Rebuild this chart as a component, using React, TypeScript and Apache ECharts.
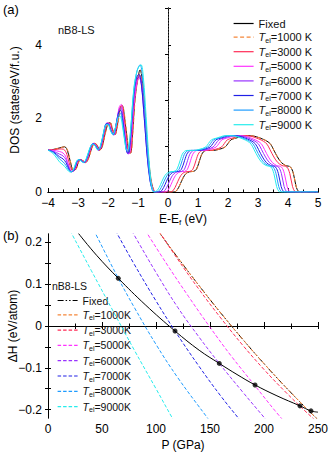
import React, { useEffect, useRef } from "react";
import * as echarts from "echarts";

// ---------- Panel (a): DOS vs E-Ef, [E (eV), DOS] ----------
const dosFixed = [
  [-4, 1.14], [-3.8, 1.16], [-3.6, 1.2], [-3.45, 1.23], [-3.35, 1.12], [-3.25, 0.8], [-3.15, 0.58], [-3.07, 0.62], [-3.0, 0.78], [-2.92, 0.88], [-2.84, 0.85], [-2.75, 0.8], [-2.65, 0.92], [-2.55, 1.18], [-2.45, 1.32], [-2.37, 1.28], [-2.28, 1.14], [-2.2, 1.22], [-2.1, 1.58], [-2.0, 1.86], [-1.93, 1.88], [-1.85, 1.7], [-1.77, 1.56], [-1.69, 1.8], [-1.6, 2.25], [-1.53, 2.35], [-1.46, 2.1], [-1.38, 1.55], [-1.3, 1.08], [-1.25, 1.06], [-1.18, 1.6], [-1.1, 2.55], [-1.0, 3.12], [-0.93, 3.32], [-0.86, 3.05], [-0.76, 2.05], [-0.66, 0.95], [-0.56, 0.28], [-0.47, 0.03], [-0.42, 0],
  [0.2, 0], [0.3, 0.05], [0.4, 0.2], [0.5, 0.38], [0.6, 0.5], [0.72, 0.55], [0.85, 0.56], [0.95, 0.62], [1.05, 0.85], [1.15, 1.06], [1.28, 1.13], [1.5, 1.13], [1.7, 1.16], [1.9, 1.22], [2.0, 1.32], [2.1, 1.42], [2.25, 1.46], [2.4, 1.5], [2.55, 1.53], [2.75, 1.53], [2.95, 1.5], [3.15, 1.44], [3.3, 1.38], [3.42, 1.3], [3.52, 1.15], [3.65, 0.95], [3.78, 0.8], [3.92, 0.72], [4.08, 0.68], [4.18, 0.5], [4.27, 0.15], [4.35, 0.01], [4.4, 0], [5, 0],
];
const dos1000 = [
  [-4, 1.14], [-3.8, 1.16], [-3.6, 1.2], [-3.44, 1.23], [-3.34, 1.12], [-3.24, 0.8], [-3.14, 0.58], [-3.06, 0.62], [-2.99, 0.78], [-2.91, 0.88], [-2.83, 0.85], [-2.74, 0.8], [-2.64, 0.92], [-2.54, 1.18], [-2.44, 1.32], [-2.36, 1.28], [-2.27, 1.14], [-2.19, 1.22], [-2.09, 1.58], [-1.99, 1.86], [-1.92, 1.88], [-1.84, 1.7], [-1.76, 1.56], [-1.68, 1.8], [-1.59, 2.25], [-1.52, 2.35], [-1.45, 2.1], [-1.37, 1.55], [-1.29, 1.08], [-1.24, 1.06], [-1.17, 1.6], [-1.09, 2.55], [-0.99, 3.12], [-0.92, 3.3], [-0.85, 3.05], [-0.75, 2.05], [-0.65, 0.95], [-0.55, 0.28], [-0.46, 0.03], [-0.41, 0],
  [0.2, 0], [0.3, 0.05], [0.4, 0.2], [0.5, 0.38], [0.6, 0.5], [0.72, 0.55], [0.85, 0.56], [0.95, 0.62], [1.05, 0.85], [1.15, 1.06], [1.28, 1.13], [1.5, 1.13], [1.7, 1.16], [1.9, 1.22], [2.0, 1.32], [2.1, 1.42], [2.25, 1.46], [2.4, 1.5], [2.55, 1.53], [2.75, 1.53], [2.95, 1.5], [3.15, 1.44], [3.3, 1.38], [3.42, 1.3], [3.52, 1.15], [3.65, 0.95], [3.78, 0.8], [3.92, 0.72], [4.08, 0.68], [4.18, 0.5], [4.27, 0.15], [4.35, 0.01], [4.4, 0], [5, 0],
];
const dos3000 = [
  [-4, 1.14], [-3.8, 1.15], [-3.6, 1.17], [-3.48, 1.16], [-3.37, 1.02], [-3.27, 0.72], [-3.17, 0.57], [-3.09, 0.62], [-3.01, 0.8], [-2.93, 0.88], [-2.85, 0.85], [-2.76, 0.8], [-2.66, 0.93], [-2.56, 1.19], [-2.46, 1.32], [-2.38, 1.27], [-2.29, 1.14], [-2.21, 1.23], [-2.11, 1.6], [-2.01, 1.87], [-1.94, 1.87], [-1.86, 1.68], [-1.78, 1.56], [-1.7, 1.82], [-1.61, 2.28], [-1.54, 2.36], [-1.47, 2.06], [-1.39, 1.5], [-1.31, 1.06], [-1.26, 1.06], [-1.19, 1.62], [-1.11, 2.55], [-1.01, 3.05], [-0.94, 3.18], [-0.87, 2.95], [-0.77, 2.0], [-0.67, 0.95], [-0.57, 0.3], [-0.48, 0.04], [-0.43, 0],
  [0.08, 0], [0.18, 0.05], [0.28, 0.2], [0.38, 0.38], [0.48, 0.5], [0.6, 0.55], [0.73, 0.56], [0.83, 0.62], [0.93, 0.85], [1.03, 1.06], [1.16, 1.13], [1.38, 1.13], [1.58, 1.16], [1.78, 1.22], [1.88, 1.32], [1.98, 1.42], [2.13, 1.46], [2.28, 1.5], [2.43, 1.53], [2.63, 1.53], [2.83, 1.5], [3.03, 1.44], [3.18, 1.38], [3.3, 1.3], [3.4, 1.15], [3.53, 0.95], [3.66, 0.8], [3.8, 0.72], [3.96, 0.68], [4.06, 0.5], [4.15, 0.15], [4.23, 0.01], [4.28, 0], [5, 0],
];
const dos5000 = [
  [-4, 1.14], [-3.8, 1.13], [-3.62, 1.1], [-3.5, 1.06], [-3.4, 0.95], [-3.3, 0.7], [-3.2, 0.56], [-3.11, 0.6], [-3.03, 0.8], [-2.95, 0.88], [-2.87, 0.85], [-2.78, 0.8], [-2.68, 0.93], [-2.58, 1.19], [-2.48, 1.32], [-2.4, 1.27], [-2.31, 1.14], [-2.23, 1.24], [-2.13, 1.62], [-2.03, 1.88], [-1.96, 1.86], [-1.88, 1.66], [-1.8, 1.55], [-1.72, 1.85], [-1.63, 2.3], [-1.56, 2.38], [-1.49, 2.0], [-1.41, 1.45], [-1.33, 1.04], [-1.28, 1.05], [-1.21, 1.62], [-1.12, 2.5], [-1.03, 3.0], [-0.96, 3.1], [-0.88, 2.9], [-0.78, 2.0], [-0.68, 0.95], [-0.58, 0.3], [-0.49, 0.04], [-0.44, 0],
  [-0.1, 0], [0, 0.05], [0.1, 0.2], [0.2, 0.38], [0.3, 0.5], [0.42, 0.55], [0.55, 0.56], [0.65, 0.62], [0.75, 0.85], [0.85, 1.06], [0.98, 1.13], [1.2, 1.13], [1.4, 1.16], [1.6, 1.22], [1.7, 1.32], [1.8, 1.42], [1.95, 1.46], [2.1, 1.5], [2.25, 1.53], [2.45, 1.53], [2.65, 1.5], [2.85, 1.44], [3.0, 1.38], [3.12, 1.3], [3.22, 1.15], [3.35, 0.95], [3.48, 0.8], [3.62, 0.72], [3.78, 0.68], [3.88, 0.5], [3.97, 0.15], [4.05, 0.01], [4.1, 0], [5, 0],
];
const dos6000 = [
  [-4, 1.14], [-3.8, 1.1], [-3.62, 1.03], [-3.5, 0.98], [-3.4, 0.88], [-3.3, 0.66], [-3.21, 0.55], [-3.12, 0.6], [-3.04, 0.8], [-2.96, 0.88], [-2.88, 0.85], [-2.79, 0.8], [-2.69, 0.93], [-2.59, 1.19], [-2.49, 1.32], [-2.41, 1.27], [-2.32, 1.14], [-2.24, 1.24], [-2.14, 1.6], [-2.04, 1.87], [-1.97, 1.85], [-1.89, 1.66], [-1.81, 1.55], [-1.73, 1.82], [-1.64, 2.22], [-1.57, 2.3], [-1.5, 1.98], [-1.42, 1.42], [-1.34, 1.04], [-1.29, 1.06], [-1.22, 1.65], [-1.13, 2.6], [-1.04, 3.08], [-0.97, 3.15], [-0.89, 2.92], [-0.79, 2.0], [-0.69, 0.95], [-0.59, 0.3], [-0.5, 0.04], [-0.45, 0],
  [-0.2, 0], [-0.1, 0.05], [0, 0.2], [0.1, 0.38], [0.2, 0.5], [0.32, 0.55], [0.45, 0.56], [0.55, 0.62], [0.65, 0.85], [0.75, 1.06], [0.88, 1.13], [1.1, 1.13], [1.3, 1.16], [1.5, 1.22], [1.6, 1.32], [1.7, 1.42], [1.85, 1.46], [2.0, 1.5], [2.15, 1.53], [2.35, 1.53], [2.55, 1.5], [2.75, 1.44], [2.9, 1.38], [3.02, 1.3], [3.12, 1.15], [3.25, 0.95], [3.38, 0.8], [3.52, 0.72], [3.68, 0.68], [3.78, 0.5], [3.87, 0.15], [3.95, 0.01], [4.0, 0], [5, 0],
];
const dos7000 = [
  [-4, 1.14], [-3.8, 1.08], [-3.62, 0.96], [-3.5, 0.9], [-3.4, 0.8], [-3.3, 0.62], [-3.22, 0.55], [-3.13, 0.6], [-3.05, 0.8], [-2.97, 0.88], [-2.89, 0.85], [-2.8, 0.8], [-2.7, 0.93], [-2.6, 1.18], [-2.5, 1.31], [-2.42, 1.27], [-2.33, 1.14], [-2.25, 1.23], [-2.15, 1.58], [-2.05, 1.86], [-1.98, 1.84], [-1.9, 1.66], [-1.82, 1.56], [-1.74, 1.8], [-1.65, 2.15], [-1.58, 2.22], [-1.51, 1.95], [-1.43, 1.42], [-1.35, 1.06], [-1.3, 1.08], [-1.23, 1.7], [-1.14, 2.65], [-1.05, 3.12], [-0.97, 3.2], [-0.89, 2.95], [-0.79, 2.0], [-0.69, 0.95], [-0.6, 0.3], [-0.51, 0.04], [-0.46, 0],
  [-0.3, 0], [-0.2, 0.05], [-0.1, 0.2], [0, 0.38], [0.1, 0.5], [0.22, 0.55], [0.35, 0.56], [0.45, 0.62], [0.55, 0.85], [0.65, 1.06], [0.78, 1.13], [1.0, 1.13], [1.2, 1.16], [1.4, 1.22], [1.5, 1.32], [1.6, 1.42], [1.75, 1.46], [1.9, 1.5], [2.05, 1.53], [2.25, 1.53], [2.45, 1.5], [2.65, 1.44], [2.8, 1.38], [2.92, 1.3], [3.02, 1.15], [3.15, 0.95], [3.28, 0.8], [3.42, 0.72], [3.58, 0.68], [3.68, 0.5], [3.77, 0.15], [3.85, 0.01], [3.9, 0], [5, 0],
];
const dos8000 = [
  [-4, 1.14], [-3.8, 1.06], [-3.62, 0.9], [-3.5, 0.82], [-3.4, 0.72], [-3.3, 0.58], [-3.23, 0.55], [-3.14, 0.61], [-3.06, 0.8], [-2.98, 0.88], [-2.9, 0.85], [-2.81, 0.8], [-2.71, 0.92], [-2.61, 1.17], [-2.51, 1.3], [-2.43, 1.27], [-2.34, 1.15], [-2.26, 1.22], [-2.16, 1.56], [-2.06, 1.84], [-1.99, 1.84], [-1.91, 1.67], [-1.83, 1.56], [-1.75, 1.75], [-1.66, 2.08], [-1.59, 2.14], [-1.52, 1.9], [-1.44, 1.4], [-1.36, 1.1], [-1.31, 1.12], [-1.24, 1.72], [-1.14, 2.75], [-1.03, 3.3], [-0.93, 3.46], [-0.85, 3.1], [-0.76, 2.05], [-0.67, 0.95], [-0.59, 0.3], [-0.52, 0.04], [-0.47, 0],
  [-0.38, 0], [-0.28, 0.05], [-0.18, 0.2], [-0.08, 0.38], [0.02, 0.5], [0.14, 0.55], [0.27, 0.56], [0.37, 0.62], [0.47, 0.85], [0.57, 1.06], [0.7, 1.13], [0.92, 1.13], [1.12, 1.16], [1.32, 1.22], [1.42, 1.32], [1.52, 1.42], [1.67, 1.46], [1.82, 1.5], [1.97, 1.53], [2.17, 1.53], [2.37, 1.5], [2.57, 1.44], [2.72, 1.38], [2.84, 1.3], [2.94, 1.15], [3.07, 0.95], [3.2, 0.8], [3.34, 0.72], [3.5, 0.68], [3.6, 0.5], [3.69, 0.15], [3.77, 0.01], [3.82, 0], [5, 0],
];
const dos9000 = [
  [-4, 1.14], [-3.8, 1.02], [-3.62, 0.82], [-3.5, 0.74], [-3.4, 0.65], [-3.32, 0.57], [-3.24, 0.54], [-3.15, 0.62], [-3.07, 0.8], [-2.99, 0.88], [-2.91, 0.85], [-2.82, 0.8], [-2.72, 0.92], [-2.62, 1.16], [-2.52, 1.3], [-2.44, 1.27], [-2.35, 1.15], [-2.27, 1.21], [-2.17, 1.54], [-2.07, 1.82], [-2.0, 1.83], [-1.92, 1.67], [-1.84, 1.56], [-1.76, 1.72], [-1.67, 2.0], [-1.6, 2.06], [-1.53, 1.86], [-1.45, 1.42], [-1.37, 1.14], [-1.32, 1.16], [-1.24, 1.75], [-1.14, 2.8], [-1.02, 3.32], [-0.9, 3.46], [-0.82, 3.1], [-0.73, 2.05], [-0.64, 0.95], [-0.57, 0.3], [-0.51, 0.04], [-0.47, 0],
  [-0.45, 0], [-0.35, 0.05], [-0.25, 0.2], [-0.15, 0.38], [-0.05, 0.5], [0.07, 0.55], [0.2, 0.56], [0.3, 0.62], [0.4, 0.85], [0.5, 1.06], [0.63, 1.13], [0.85, 1.13], [1.05, 1.16], [1.25, 1.22], [1.35, 1.32], [1.45, 1.42], [1.6, 1.46], [1.75, 1.5], [1.9, 1.53], [2.1, 1.53], [2.3, 1.5], [2.5, 1.44], [2.65, 1.38], [2.77, 1.3], [2.87, 1.15], [3.0, 0.95], [3.13, 0.8], [3.27, 0.72], [3.43, 0.68], [3.53, 0.5], [3.62, 0.15], [3.7, 0.01], [3.75, 0], [5, 0],
];

// ---------- Panel (b): dH vs P, [P (GPa), dH (eV/atom)] ----------
const dhFixed = [[100, 0.234], [120, 0.164], [140, 0.096], [160, 0.031], [182, -0.037], [200, -0.09], [220, -0.146], [240, -0.199], [252, -0.229]];
const dh1000 = [[100, 0.234], [120, 0.164], [140, 0.096], [160, 0.031], [182, -0.037], [200, -0.09], [220, -0.146], [240, -0.199], [252, -0.229]];
const dh3000 = [[100, 0.237], [120, 0.16], [140, 0.087], [160, 0.019], [180, -0.045], [200, -0.104], [220, -0.158], [240, -0.208], [250, -0.231]];
const dh5000 = [[90, 0.229], [110, 0.148], [130, 0.071], [150, -0.003], [170, -0.073], [191.7, -0.143], [210, -0.202], [220, -0.232]];
const dh6000 = [[75, 0.239], [79, 0.221], [100, 0.128], [120, 0.045], [140, -0.027], [158.6, -0.0895], [180, -0.157], [200.9, -0.221], [205, -0.233]];
const dh7000 = [[60, 0.24], [64, 0.221], [80, 0.147], [100, 0.06], [117.6, -0.012], [140, -0.097], [160, -0.1675], [176.5, -0.221], [180, -0.232]];
const dh8000 = [[40, 0.242], [44, 0.221], [65.1, 0.114], [80, 0.044], [100, -0.044], [120, -0.123], [148, -0.221], [152, -0.234]];
const dh9000 = [[18, 0.24], [21.9, 0.221], [40, 0.133], [60, 0.037], [80, -0.058], [100, -0.15], [115.3, -0.221], [118, -0.232]];
const dhTransition = [[28, 0.222], [45, 0.169], [65.1, 0.114], [90, 0.051], [117.6, -0.012], [140, -0.058], [158.6, -0.0895], [175, -0.116], [191.7, -0.141], [212, -0.167], [233.3, -0.191], [243.5, -0.203], [250, -0.206]];
const dhDots = [[65.1, 0.114], [117.6, -0.012], [158.6, -0.0895], [191.7, -0.141], [233.3, -0.191], [243.5, -0.203]];

// ---------- labels ----------
const SERIES_KEYS = ["Fixed", "1000", "3000", "5000", "6000", "7000", "8000", "9000"];
const X_TICKS_B = [0, 50, 100, 150, 200, 250];
const Y_LABELS_A = [0, 2, 4];
const Y_LABELS_B = [-0.2, -0.1, 0, 0.1, 0.2];
const Y_TICKS_B = [-0.2, -0.15, -0.1, -0.05, 0, 0.05, 0.1, 0.15, 0.2];

const dosData = [dosFixed, dos1000, dos3000, dos5000, dos6000, dos7000, dos8000, dos9000];
const dhData = [dhFixed, dh1000, dh3000, dh5000, dh6000, dh7000, dh8000, dh9000];

const COLORS = ["#000000", "#f5873a", "#ff2b55", "#ff33ff", "#9933ff", "#2020e6", "#1f9cff", "#26ecec"];
const FONT = "Liberation Sans, Arial, sans-serif";

const minus = (v: number | string) => String(v).replace("-", "\u2212");

export default function App() {
  const ref = useRef<HTMLDivElement>(null);
  useEffect(() => {
    document.body.style.margin = "0";
    if (!ref.current) return;
    const chart = echarts.init(ref.current, null, { renderer: "svg" });

    const axisLine = { show: true, lineStyle: { color: "#000", width: 1 } };
    const labelStyle = { color: "#000", fontSize: 12, fontFamily: FONT };

    const legendFmt = (space: string) => (name: string) => {
      const k = name.slice(2);
      if (k === "Fixed") return "{n|Fixed}";
      return `{i|T}{s|el}{n|=${k}${space}K}`;
    };
    const richA = {
      n: { fontSize: 11, fontFamily: FONT, color: "#111" },
      i: { fontSize: 11, fontFamily: FONT, fontStyle: "italic", color: "#111" },
      s: { fontSize: 7, fontFamily: FONT, color: "#111", padding: [6, 0, 0, 0] },
    };
    const richB = {
      n: { fontSize: 10.5, fontFamily: FONT, color: "#111" },
      i: { fontSize: 10.5, fontFamily: FONT, fontStyle: "italic", color: "#111" },
      s: { fontSize: 7, fontFamily: FONT, color: "#111", padding: [6, 0, 0, 0] },
    };

    const seriesA = dosData.map((d, i) => ({
      name: "a_" + SERIES_KEYS[i],
      type: "line",
      xAxisIndex: 0,
      yAxisIndex: 0,
      data: d,
      symbol: "none",
      smooth: 0.35,
      z: 2 + i,
      lineStyle: { color: COLORS[i], width: 1, type: i === 1 ? [4, 2.5] : "solid" },
      itemStyle: { color: COLORS[i] },
      ...(i === 0
        ? {
            markLine: {
              silent: true,
              symbol: ["none", "none"],
              label: { show: false },
              lineStyle: { color: "#444", width: 1, type: [1.5, 1.5] },
              data: [{ xAxis: 0 }],
            },
          }
        : {}),
    }));

    const seriesB = dhData.map((d, i) => ({
      name: "b_" + SERIES_KEYS[i],
      type: "line",
      xAxisIndex: 2,
      yAxisIndex: 2,
      data: d,
      symbol: "none",
      smooth: 0.4,
      z: 2 + i,
      lineStyle: { color: COLORS[i], width: 1, type: i === 0 ? [6, 2, 1.5, 2, 1.5, 2] : [3.5, 2] },
      itemStyle: { color: COLORS[i] },
    }));

    const option = {
      animation: false,
      backgroundColor: "#fff",
      textStyle: { fontFamily: FONT },
      grid: [
        { left: 48, right: 14, top: 8, height: 184, containLabel: false, outerBoundsMode: "none" },
        { left: 48, right: 14, top: 234, height: 184, containLabel: false, outerBoundsMode: "none" },
      ],
      xAxis: [
        {
          gridIndex: 0, type: "value", position: "bottom", min: -4, max: 5, interval: 1,
          axisLine, splitLine: { show: false },
          axisTick: { inside: true, length: 4, lineStyle: { color: "#000" } },
          minorTick: { show: true, splitNumber: 2, length: 2.5, lineStyle: { color: "#000" } },
          axisLabel: { ...labelStyle, margin: 5, formatter: (v: number) => minus(v) },
          name: "{t|E-E}{s|f}{t| (eV)}", nameLocation: "middle", nameGap: 19, nameMoveOverlap: false,
          nameTextStyle: { color: "#000", fontFamily: FONT, fontSize: 12, rich: { t: { fontSize: 12, fontFamily: FONT, color: "#000" }, s: { fontSize: 8, fontFamily: FONT, color: "#000", padding: [7, 0, 0, 0] } } },
        },
        {
          gridIndex: 0, type: "value", position: "top", min: -4, max: 5, interval: 1,
          axisLine, splitLine: { show: false }, axisTick: { show: false }, axisLabel: { show: false },
        },
        {
          gridIndex: 1, type: "value", position: "bottom", min: 0, max: 250, interval: 50,
          axisLine, splitLine: { show: false },
          axisTick: { inside: true, length: 4, lineStyle: { color: "#000" } },
          minorTick: { show: true, splitNumber: 2, length: 2.5, lineStyle: { color: "#000" } },
          axisLabel: { ...labelStyle, margin: 5, customValues: X_TICKS_B },
          name: "P (GPa)", nameLocation: "middle", nameGap: 21, nameMoveOverlap: false,
          nameTextStyle: { color: "#000", fontFamily: FONT, fontSize: 12 },
        },
        {
          gridIndex: 1, type: "value", position: "top", min: 0, max: 250, interval: 25,
          axisLine, splitLine: { show: false },
          axisTick: { inside: true, length: 3, lineStyle: { color: "#000" } },
          axisLabel: { show: false },
        },
      ],
      yAxis: [
        {
          gridIndex: 0, type: "value", position: "left", min: 0, max: 5, interval: 1,
          axisLine, splitLine: { show: false },
          axisTick: { inside: true, length: 3, lineStyle: { color: "#000" } },
          axisLabel: { ...labelStyle, margin: 6, customValues: Y_LABELS_A },
          name: "DOS (states/eV/f.u.)", nameLocation: "middle", nameGap: 27, nameMoveOverlap: false,
          nameTextStyle: { color: "#000", fontFamily: FONT, fontSize: 12 },
        },
        {
          gridIndex: 0, type: "value", position: "right", min: 0, max: 5, interval: 1.25,
          axisLine, splitLine: { show: false },
          axisTick: { inside: true, length: 3, lineStyle: { color: "#000" } },
          axisLabel: { show: false },
        },
        {
          gridIndex: 1, type: "value", position: "left", min: -0.22, max: 0.22,
          axisLine, splitLine: { show: false },
          axisTick: { inside: true, length: 3, customValues: Y_TICKS_B, lineStyle: { color: "#000" } },
          axisLabel: {
            ...labelStyle, margin: 6, customValues: Y_LABELS_B,
            formatter: (v: number) => (Math.abs(v) < 1e-9 ? "0" : minus(v.toFixed(1))),
          },
          name: "\u0394H (eV/atom)", nameLocation: "middle", nameGap: 29, nameMoveOverlap: false,
          nameTextStyle: { color: "#000", fontFamily: FONT, fontSize: 12 },
        },
        {
          gridIndex: 1, type: "value", position: "right", min: -0.22, max: 0.22,
          axisLine, splitLine: { show: false },
          axisTick: { inside: true, length: 3, customValues: Y_TICKS_B, lineStyle: { color: "#000" } },
          axisLabel: { show: false },
        },
      ],
      legend: [
        {
          data: SERIES_KEYS.map((k) => "a_" + k),
          orient: "vertical", left: 228, top: 13,
          itemWidth: 20, itemHeight: 10, itemGap: 2.6,
          itemStyle: { opacity: 0 },
          lineStyle: { width: 1.2 },
          formatter: legendFmt(" "),
          textStyle: { rich: richA, fontSize: 11, color: "#111", fontFamily: FONT },
          selectedMode: false,
        },
        {
          data: SERIES_KEYS.map((k) => "b_" + k),
          orient: "vertical", left: 52, top: 290,
          itemWidth: 20, itemHeight: 10, itemGap: 3.3,
          itemStyle: { opacity: 0 },
          lineStyle: { width: 1.2 },
          formatter: legendFmt(""),
          textStyle: { rich: richB, fontSize: 10.5, color: "#111", fontFamily: FONT },
          selectedMode: false,
        },
      ],
      graphic: [
        { type: "text", left: 3, top: 3, style: { text: "(a)", fontSize: 13, fontFamily: FONT, fill: "#000" } },
        { type: "text", left: 3, top: 229, style: { text: "(b)", fontSize: 13, fontFamily: FONT, fill: "#000" } },
        { type: "text", left: 58, top: 24, style: { text: "nB8-LS", fontSize: 11, fontFamily: FONT, fill: "#111" } },
        { type: "text", left: 52, top: 280, style: { text: "nB8-LS", fontSize: 10.5, fontFamily: FONT, fill: "#111" } },
      ],
      series: [
        ...seriesA,
        ...seriesB,
        {
          name: "transition", type: "line", xAxisIndex: 2, yAxisIndex: 2, data: dhTransition,
          symbol: "none", smooth: 0.4, z: 20, lineStyle: { color: "#000", width: 1 },
        },
        {
          name: "dots", type: "scatter", xAxisIndex: 2, yAxisIndex: 2, data: dhDots,
          symbol: "circle", symbolSize: 5, z: 21, itemStyle: { color: "#000" },
        },
      ],
    };
    chart.setOption(option as any);
    return () => chart.dispose();
  }, []);
  return <div ref={ref} style={{ width: 332, height: 454 }} />;
}
